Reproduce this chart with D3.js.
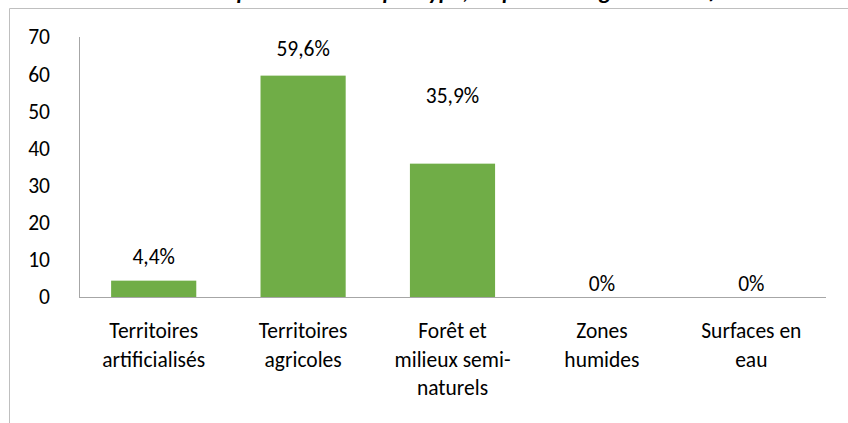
<!DOCTYPE html>
<html>
<head>
<meta charset="utf-8">
<script src="https://cdn.jsdelivr.net/npm/d3@7"></script>
<style>
  body { margin: 0; background: #fff; }
  svg { display: block; }
  text { font-family: Carlito, Calibri, Lato, "Open Sans", sans-serif; fill: #000; }
</style>
</head>
<body>
<svg id="chart" width="848" height="423"></svg>
<script>
const categories = [
  ['Territoires', 'artificialisés'],
  ['Territoires', 'agricoles'],
  ['Forêt et', 'milieux semi-', 'naturels'],
  ['Zones', 'humides'],
  ['Surfaces en', 'eau']
]
const values = [4.4, 59.6, 35.9, 0, 0]
const valueLabels = ['4,4%', '59,6%', '35,9%', '0%', '0%']
const yTicks = [0, 10, 20, 30, 40, 50, 60, 70]
const titleText = 'Occupation des sols par type, en pourcentage de la surface du territoire'

const W = 848, H = 423
const margin = { left: 79, right: 22, top: 37, bottom: 126 }
const fontSize = '21.5px'
// décalage (px) des étiquettes au-dessus des barres, placées à la main dans l'original
const labelLift = [17, 20, 61, 6, 6]

const svg = d3.select('#chart')

// cadre du graphique (coupé en haut/droite/bas)
svg.append('path')
  .attr('d', `M9.5,${H} V8.5 H${W}`)
  .attr('fill', 'none')
  .attr('stroke', '#bfbfbf')
  .attr('stroke-width', 1)

// titre, presque entièrement hors de la zone visible (seuls les jambages dépassent)
svg.append('text')
  .attr('x', 530)
  .attr('y', -1)
  .attr('text-anchor', 'middle')
  .style('font-size', '23px')
  .style('font-weight', 'bold')
  .style('font-style', 'italic')
  .text(titleText)

const x = d3.scaleBand()
  .domain(d3.range(categories.length))
  .range([margin.left, W - margin.right])
  .paddingInner(0.43)
  .paddingOuter(0.215)

const y = d3.scaleLinear()
  .domain([0, 70])
  .range([H - margin.bottom, margin.top])

// axe Y : ligne + étiquettes
const yAxis = svg.append('g')
  .attr('transform', `translate(${margin.left},0)`)
  .call(d3.axisLeft(y).tickValues(yTicks).tickSize(0).tickPadding(29))
yAxis.select('.domain').attr('stroke', '#a6a6a6').attr('d', `M0.5,${y(70)}V${y(0)}`)
yAxis.selectAll('.tick text')
  .style('font-size', fontSize)
  .attr('fill', '#000')

// barres
svg.append('g')
  .selectAll('rect')
  .data(values)
  .join('rect')
  .attr('x', (d, i) => x(i))
  .attr('y', d => y(d))
  .attr('width', x.bandwidth())
  .attr('height', d => y(0) - y(d))
  .attr('fill', '#70ad47')

// étiquettes de valeurs
svg.append('g')
  .selectAll('text')
  .data(values)
  .join('text')
  .attr('x', (d, i) => x(i) + x.bandwidth() / 2)
  .attr('y', (d, i) => y(d) - labelLift[i])
  .attr('text-anchor', 'middle')
  .style('font-size', fontSize)
  .text((d, i) => valueLabels[i])

// axe X
const xAxis = svg.append('g')
  .attr('transform', `translate(0,${y(0)})`)
  .call(d3.axisBottom(x).tickSize(0).tickFormat(''))
xAxis.select('.domain').attr('stroke', '#a6a6a6').attr('d', `M${margin.left},0.5H${W - margin.right}`)

xAxis.selectAll('.tick').each(function (i) {
  const t = d3.select(this).select('text')
  t.text(null).attr('y', 0).attr('dy', 0)
  categories[i].forEach((line, k) => {
    t.append('tspan')
      .attr('x', 0)
      .attr('y', 41 + k * 28.5)
      .text(line)
  })
})
xAxis.selectAll('.tick text')
  .style('font-size', fontSize)
  .attr('fill', '#000')
</script>
</body>
</html>
